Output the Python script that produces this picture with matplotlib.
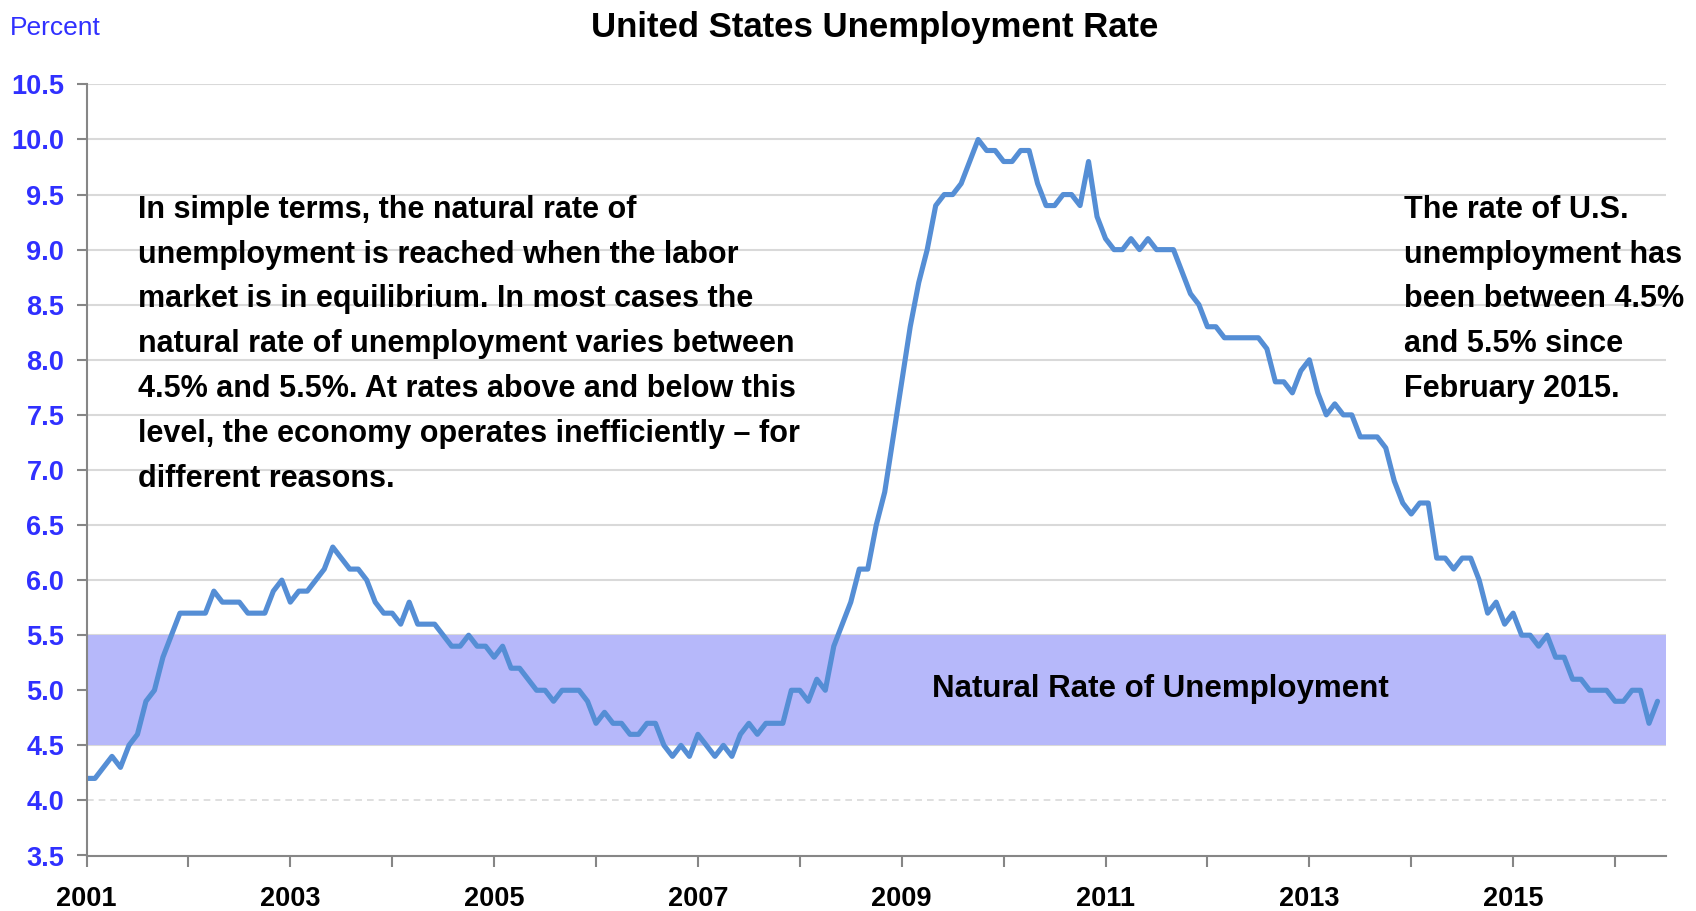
import matplotlib
matplotlib.use("Agg")
import matplotlib.pyplot as plt
import numpy as np

# ---------------- data ----------------
start_year = 2001
rate_2001 = [4.2, 4.2, 4.3, 4.4, 4.3, 4.5, 4.6, 4.9, 5.0, 5.3, 5.5, 5.7]
rate_2002 = [5.7, 5.7, 5.7, 5.9, 5.8, 5.8, 5.8, 5.7, 5.7, 5.7, 5.9, 6.0]
rate_2003 = [5.8, 5.9, 5.9, 6.0, 6.1, 6.3, 6.2, 6.1, 6.1, 6.0, 5.8, 5.7]
rate_2004 = [5.7, 5.6, 5.8, 5.6, 5.6, 5.6, 5.5, 5.4, 5.4, 5.5, 5.4, 5.4]
rate_2005 = [5.3, 5.4, 5.2, 5.2, 5.1, 5.0, 5.0, 4.9, 5.0, 5.0, 5.0, 4.9]
rate_2006 = [4.7, 4.8, 4.7, 4.7, 4.6, 4.6, 4.7, 4.7, 4.5, 4.4, 4.5, 4.4]
rate_2007 = [4.6, 4.5, 4.4, 4.5, 4.4, 4.6, 4.7, 4.6, 4.7, 4.7, 4.7, 5.0]
rate_2008 = [5.0, 4.9, 5.1, 5.0, 5.4, 5.6, 5.8, 6.1, 6.1, 6.5, 6.8, 7.3]
rate_2009 = [7.8, 8.3, 8.7, 9.0, 9.4, 9.5, 9.5, 9.6, 9.8, 10.0, 9.9, 9.9]
rate_2010 = [9.8, 9.8, 9.9, 9.9, 9.6, 9.4, 9.4, 9.5, 9.5, 9.4, 9.8, 9.3]
rate_2011 = [9.1, 9.0, 9.0, 9.1, 9.0, 9.1, 9.0, 9.0, 9.0, 8.8, 8.6, 8.5]
rate_2012 = [8.3, 8.3, 8.2, 8.2, 8.2, 8.2, 8.2, 8.1, 7.8, 7.8, 7.7, 7.9]
rate_2013 = [8.0, 7.7, 7.5, 7.6, 7.5, 7.5, 7.3, 7.3, 7.3, 7.2, 6.9, 6.7]
rate_2014 = [6.6, 6.7, 6.7, 6.2, 6.2, 6.1, 6.2, 6.2, 6.0, 5.7, 5.8, 5.6]
rate_2015 = [5.7, 5.5, 5.5, 5.4, 5.5, 5.3, 5.3, 5.1, 5.1, 5.0, 5.0, 5.0]
rate_2016 = [4.9, 4.9, 5.0, 5.0, 4.7, 4.9]

natural_low = 4.5
natural_high = 5.5
y_ticks = [3.5, 4.0, 4.5, 5.0, 5.5, 6.0, 6.5, 7.0, 7.5, 8.0, 8.5, 9.0, 9.5, 10.0, 10.5]
tick_years = list(range(2001, 2017))
labeled_years = [2001, 2003, 2005, 2007, 2009, 2011, 2013, 2015]

title = "United States Unemployment Rate"
unit_label = "Percent"
band_label = "Natural Rate of Unemployment"
left_note = ("In simple terms, the natural rate of\n"
             "unemployment is reached when the labor\n"
             "market is in equilibrium. In most cases the\n"
             "natural rate of unemployment varies between\n"
             "4.5% and 5.5%. At rates above and below this\n"
             "level, the economy operates inefficiently \u2013 for\n"
             "different reasons.")
right_note = ("The rate of U.S.\n"
              "unemployment has\n"
              "been between 4.5%\n"
              "and 5.5% since\n"
              "February 2015.")

rates = (rate_2001 + rate_2002 + rate_2003 + rate_2004 + rate_2005 + rate_2006 +
         rate_2007 + rate_2008 + rate_2009 + rate_2010 + rate_2011 + rate_2012 +
         rate_2013 + rate_2014 + rate_2015 + rate_2016)
months = np.arange(len(rates))

# ---------------- style ----------------
plt.rcParams['font.family'] = ['Liberation Sans', 'DejaVu Sans']
BLUE_TXT = '#3030FF'
LINE_C = '#558ED5'
BAND_C = '#B6B8FA'
GRID_C = '#D9D9D9'
AXIS_C = '#868686'

fig = plt.figure(figsize=(16.96, 9.11), dpi=100)
ax = fig.add_axes([86.5 / 1696, 1 - 855.5 / 911, (1666 - 86.5) / 1696, (855.5 - 84.4) / 911])

ax.set_xlim(0, len(rates))
ax.set_ylim(y_ticks[0], y_ticks[-1])

# gridlines
for v in y_ticks[1:]:
    if v == 4.0:
        ax.axhline(v, color=GRID_C, lw=1.2, ls=(0, (4, 3)), zorder=1)
    else:
        ax.axhline(v, color=GRID_C, lw=1.5, zorder=1)

# natural rate band
ax.axhspan(natural_low, natural_high, color=BAND_C, lw=0, zorder=2)

# line
ax.plot(months, rates, color=LINE_C, lw=3.7, zorder=4, solid_joinstyle='round',
        solid_capstyle='round')

# axes styling
for s in ['top', 'right']:
    ax.spines[s].set_visible(False)
for s in ['left', 'bottom']:
    ax.spines[s].set_color(AXIS_C)
    ax.spines[s].set_linewidth(1.5)
    ax.spines[s].set_zorder(5)

ax.set_yticks(y_ticks)
ax.set_yticklabels([f"{v:.1f}" for v in y_ticks])
xt = [(y - start_year) * 12 for y in tick_years]
ax.set_xticks(xt)
ax.set_xticklabels([str(y) if y in labeled_years else "" for y in tick_years])

ax.tick_params(axis='y', direction='out', length=7, width=1.5, color=AXIS_C,
               labelcolor=BLUE_TXT, labelsize=19.5, pad=9)
ax.tick_params(axis='x', direction='out', length=8, width=1.5, color=AXIS_C,
               labelcolor='black', labelsize=19.5, pad=14)
for lab in ax.get_yticklabels() + ax.get_xticklabels():
    lab.set_fontweight('bold')

# texts
fig.text(875 / 1696, 1 - 27 / 911, title, ha='center', va='center',
         fontsize=25, fontweight='bold', color='black')
fig.text(10 / 1696, 1 - 28 / 911, unit_label, ha='left', va='center',
         fontsize=19, color=BLUE_TXT)

ax.text(6.1, 9.50, left_note, ha='left', va='top', fontsize=22,
        fontweight='bold', color='black', linespacing=1.65, zorder=6)
ax.text(155.2, 9.50, right_note, ha='left', va='top', fontsize=22,
        fontweight='bold', color='black', linespacing=1.65, zorder=6)
ax.text(126.5, 5.01, band_label, ha='center', va='center', fontsize=22.5,
        fontweight='bold', color='black', zorder=6)

fig.savefig("out.png", dpi=100)
